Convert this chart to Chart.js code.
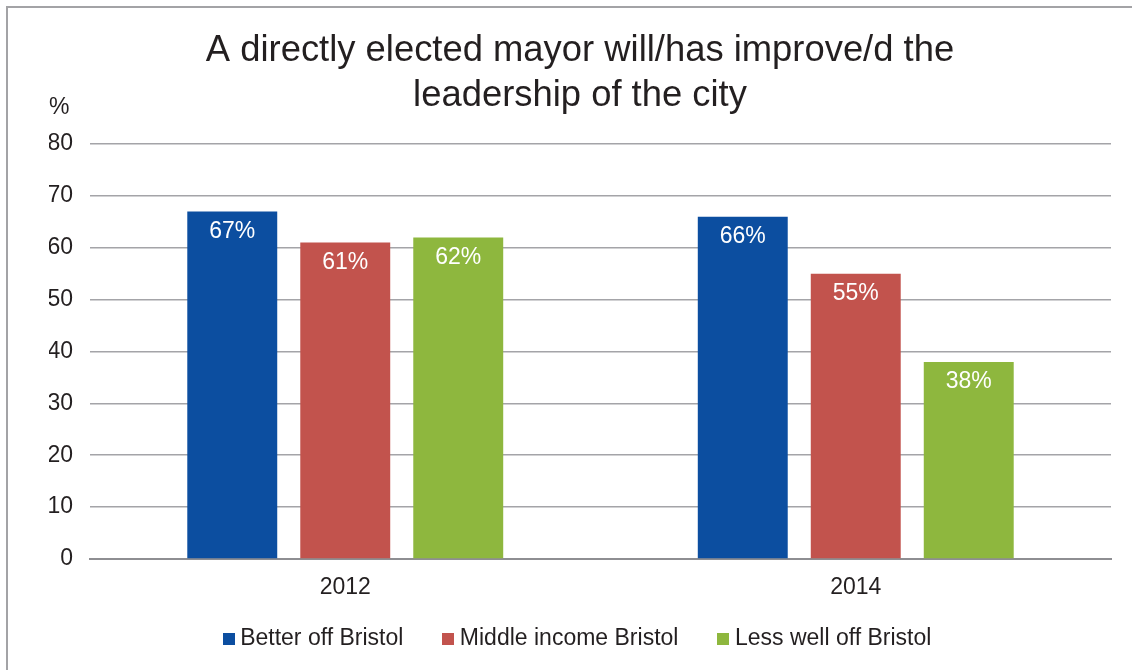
<!DOCTYPE html>
<html>
<head>
<meta charset="utf-8">
<title>A directly elected mayor will/has improve/d the leadership of the city</title>
<script src="https://cdn.jsdelivr.net/npm/chart.js@4/dist/chart.umd.min.js"></script>
<style>
  html, body { margin: 0; padding: 0; background: #ffffff; overflow: hidden; }
  #frame {
    position: absolute; left: 6px; top: 6px;
    width: 1200px; height: 700px;
    border: 2px solid #a3a3a6;
  }
  #chart { position: absolute; left: 0; top: 0; }
</style>
</head>
<body>
<div id="frame"></div>
<canvas id="chart" width="1132" height="670"></canvas>
<script>
// Survey results by income group, per year
const years = ['2012', '2014'];
const betterOff = [67, 66];
const middleIncome = [61, 55];
const lessWellOff = [62, 38];
const seriesNames = ['Better off Bristol', 'Middle income Bristol', 'Less well off Bristol'];
const seriesColors = ['#0c4ea0', '#c2534d', '#8eb73e'];
const titleLines = ['A directly elected mayor will/has improve/d the', 'leadership of the city'];
const axisUnit = '%';

const FONT = "'Liberation Sans', Arial, Helvetica, sans-serif";
const TEXT = '#231f20';

// Small filled square used as the legend swatch
function swatch(color) {
  const c = document.createElement('canvas');
  c.width = 12; c.height = 12;
  const g = c.getContext('2d');
  g.fillStyle = color;
  g.fillRect(0, 0, 12, 12);
  return c;
}

// White value labels just inside the top of each bar
const valueLabels = {
  id: 'valueLabels',
  afterDatasetsDraw(chart) {
    const ctx = chart.ctx;
    ctx.save();
    ctx.font = '23px ' + FONT;
    ctx.fillStyle = '#ffffff';
    ctx.textAlign = 'center';
    ctx.textBaseline = 'middle';
    chart.data.datasets.forEach((ds, i) => {
      const meta = chart.getDatasetMeta(i);
      meta.data.forEach((bar, j) => {
        ctx.fillText(ds.data[j] + '%', bar.x, bar.y + 20);
      });
    });
    ctx.restore();
  }
};

// Unit caption above the value axis
const unitCaption = {
  id: 'unitCaption',
  afterDraw(chart) {
    const ctx = chart.ctx;
    const y = chart.scales.y;
    ctx.save();
    ctx.font = '23px ' + FONT;
    ctx.fillStyle = TEXT;
    ctx.textAlign = 'left';
    ctx.textBaseline = 'middle';
    ctx.fillText(axisUnit, y.left, chart.chartArea.top - 36);
    ctx.restore();
  }
};

// Pull the legend row up closer to the category labels
const legendOffset = {
  id: 'legendOffset',
  afterLayout(chart) {
    const lg = chart.legend;
    if (lg) { lg.top -= 19; lg.bottom -= 19; }
  }
};

new Chart(document.getElementById('chart'), {
  type: 'bar',
  data: {
    labels: years,
    datasets: [
      { label: seriesNames[0], data: betterOff, backgroundColor: seriesColors[0] },
      { label: seriesNames[1], data: middleIncome, backgroundColor: seriesColors[1] },
      { label: seriesNames[2], data: lessWellOff, backgroundColor: seriesColors[2] }
    ]
  },
  options: {
    responsive: false,
    devicePixelRatio: 1,
    animation: false,
    datasets: { bar: { categoryPercentage: 0.664, barPercentage: 0.796 } },
    layout: { padding: { left: 49, right: 21, top: 0, bottom: 0 } },
    scales: {
      x: {
        grid: { display: false, drawTicks: false },
        border: { display: true, color: '#8e8e92', width: 2 },
        ticks: { color: TEXT, font: { family: FONT, size: 23 }, padding: 15 },
        afterFit(scale) { scale.height = 42; }
      },
      y: {
        min: 0, max: 80,
        ticks: { stepSize: 10, color: TEXT, font: { family: FONT, size: 23 }, padding: 17 },
        grid: { color: '#a4a4a8', lineWidth: 1.6, drawTicks: false },
        border: { display: false },
        afterFit(scale) { scale.width = 41; }
      }
    },
    plugins: {
      title: {
        display: true,
        text: titleLines,
        color: TEXT,
        font: { family: FONT, size: 36.4, weight: 'normal', lineHeight: 1.25 },
        padding: { top: 28, bottom: 25 }
      },
      legend: {
        position: 'bottom',
        maxHeight: 69,
        labels: {
          color: TEXT,
          font: { family: FONT, size: 23 },
          padding: 45,
          usePointStyle: true,
          pointStyleWidth: 0.01,
          generateLabels(chart) {
            const items = Chart.defaults.plugins.legend.labels.generateLabels(chart);
            return items.map(it => Object.assign(it, { pointStyle: swatch(it.fillStyle) }));
          }
        }
      },
      tooltip: { enabled: false }
    }
  },
  plugins: [valueLabels, unitCaption, legendOffset]
});
</script>
</body>
</html>
